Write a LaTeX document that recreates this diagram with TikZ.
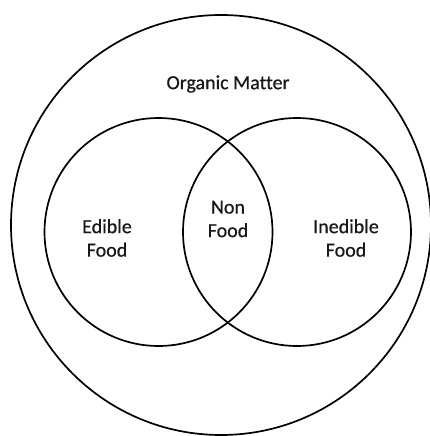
\documentclass[tikz,border=0pt]{standalone}
\usepackage{fontspec}
\setmainfont{Carlito}[Ligatures=NoCommon,FakeBold=0.6]
\begin{document}
\begin{tikzpicture}[x=1pt,y=-1pt,
  ring/.style={draw=black,line width=1.7pt},
  label/.style={align=center,text=black!90,font=\fontsize{20}{23.5}\selectfont}]
\useasboundingbox (0,0) rectangle (430,436);
\clip (0,0) rectangle (430,436);
% outer set and the two overlapping subsets
\node[ring,circle,minimum size=420pt,inner sep=0pt] (organic) at (221,225) {};
\node[ring,circle,minimum size=228pt,inner sep=0pt] (edible) at (158.5,232) {};
\node[ring,circle,minimum size=228pt,inner sep=0pt] (inedible) at (297,232) {};
% labels
\node[label] (tOrganic) at (228,84) {Organic Matter};
\node[label] (tEdible) at (107,238) {Edible\\Food};
\node[label] (tNon) at (228,219) {Non\\Food};
\node[label] (tInedible) at (346,238) {Inedible\\Food};
\end{tikzpicture}
\end{document}
